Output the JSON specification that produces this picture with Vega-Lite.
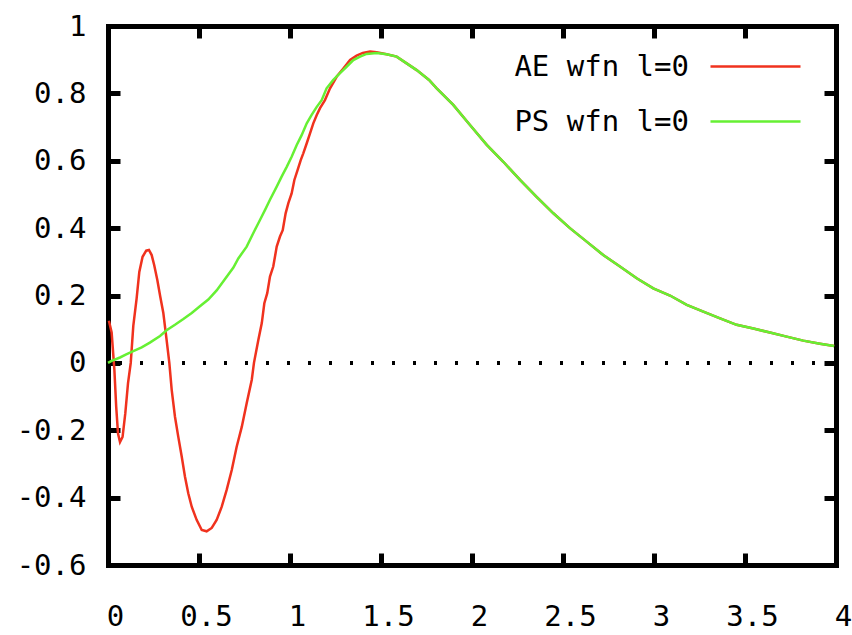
{
  "$schema": "https://vega.github.io/schema/vega-lite/v6.json",
  "width": 728,
  "height": 539,
  "autosize": {"type": "none"},
  "padding": {"left": 108, "top": 26, "right": 16, "bottom": 70},
  "background": "white",
  "view": {"stroke": null},
  "config": {
    "axis": {
      "domain": false, "grid": false, "title": null, "ticks": false, "labels": false,
      "tickColor": "black", "tickWidth": 5, "tickSize": 12,
      "domainColor": "black", "domainWidth": 5, "domainCap": "square",
      "labelFont": "DejaVu Sans Mono", "labelFontSize": 29, "labelColor": "black",
      "labelFlush": false, "labelOverlap": false
    },
    "legend": {
      "title": null, "orient": "none", "legendX": 609.5, "legendY": 2.5, "padding": 0,
      "symbolType": "M-1.233,0L1.233,0", "symbolSize": 5329, "symbolStrokeWidth": 2.5,
      "labelFont": "DejaVu Sans Mono", "labelFontSize": 29, "labelColor": "black", "labelLimit": 0,
      "labelAlign": "right", "labelOffset": -104.5
    }
  },
  "datasets": {
    "curves": [
      {"series": "AE wfn l=0", "x": 0.005, "y": 0.125},
      {"series": "AE wfn l=0", "x": 0.02, "y": 0.09},
      {"series": "AE wfn l=0", "x": 0.035, "y": -0.02},
      {"series": "AE wfn l=0", "x": 0.045, "y": -0.13},
      {"series": "AE wfn l=0", "x": 0.055, "y": -0.21},
      {"series": "AE wfn l=0", "x": 0.066, "y": -0.235},
      {"series": "AE wfn l=0", "x": 0.08, "y": -0.22},
      {"series": "AE wfn l=0", "x": 0.095, "y": -0.15},
      {"series": "AE wfn l=0", "x": 0.11, "y": -0.06},
      {"series": "AE wfn l=0", "x": 0.125, "y": 0.0},
      {"series": "AE wfn l=0", "x": 0.139, "y": 0.11},
      {"series": "AE wfn l=0", "x": 0.157, "y": 0.19},
      {"series": "AE wfn l=0", "x": 0.172, "y": 0.27},
      {"series": "AE wfn l=0", "x": 0.19, "y": 0.315},
      {"series": "AE wfn l=0", "x": 0.21, "y": 0.333},
      {"series": "AE wfn l=0", "x": 0.225, "y": 0.335},
      {"series": "AE wfn l=0", "x": 0.24, "y": 0.32},
      {"series": "AE wfn l=0", "x": 0.254, "y": 0.29},
      {"series": "AE wfn l=0", "x": 0.271, "y": 0.246},
      {"series": "AE wfn l=0", "x": 0.287, "y": 0.197},
      {"series": "AE wfn l=0", "x": 0.304, "y": 0.148},
      {"series": "AE wfn l=0", "x": 0.322, "y": 0.068},
      {"series": "AE wfn l=0", "x": 0.337, "y": 0.0},
      {"series": "AE wfn l=0", "x": 0.35, "y": -0.08},
      {"series": "AE wfn l=0", "x": 0.368, "y": -0.16},
      {"series": "AE wfn l=0", "x": 0.386, "y": -0.219},
      {"series": "AE wfn l=0", "x": 0.405, "y": -0.278},
      {"series": "AE wfn l=0", "x": 0.423, "y": -0.338},
      {"series": "AE wfn l=0", "x": 0.441, "y": -0.387},
      {"series": "AE wfn l=0", "x": 0.46, "y": -0.427},
      {"series": "AE wfn l=0", "x": 0.487, "y": -0.466},
      {"series": "AE wfn l=0", "x": 0.515, "y": -0.496},
      {"series": "AE wfn l=0", "x": 0.542, "y": -0.5},
      {"series": "AE wfn l=0", "x": 0.57, "y": -0.49},
      {"series": "AE wfn l=0", "x": 0.597, "y": -0.466},
      {"series": "AE wfn l=0", "x": 0.625, "y": -0.427},
      {"series": "AE wfn l=0", "x": 0.652, "y": -0.377},
      {"series": "AE wfn l=0", "x": 0.68, "y": -0.318},
      {"series": "AE wfn l=0", "x": 0.707, "y": -0.249},
      {"series": "AE wfn l=0", "x": 0.735, "y": -0.19},
      {"series": "AE wfn l=0", "x": 0.762, "y": -0.12},
      {"series": "AE wfn l=0", "x": 0.79, "y": -0.05},
      {"series": "AE wfn l=0", "x": 0.802, "y": 0.0},
      {"series": "AE wfn l=0", "x": 0.826, "y": 0.068},
      {"series": "AE wfn l=0", "x": 0.845, "y": 0.118},
      {"series": "AE wfn l=0", "x": 0.859, "y": 0.177},
      {"series": "AE wfn l=0", "x": 0.875, "y": 0.207},
      {"series": "AE wfn l=0", "x": 0.89, "y": 0.256},
      {"series": "AE wfn l=0", "x": 0.908, "y": 0.286},
      {"series": "AE wfn l=0", "x": 0.927, "y": 0.345},
      {"series": "AE wfn l=0", "x": 0.945, "y": 0.375},
      {"series": "AE wfn l=0", "x": 0.96, "y": 0.394},
      {"series": "AE wfn l=0", "x": 0.976, "y": 0.444},
      {"series": "AE wfn l=0", "x": 0.991, "y": 0.474},
      {"series": "AE wfn l=0", "x": 1.009, "y": 0.503},
      {"series": "AE wfn l=0", "x": 1.024, "y": 0.543},
      {"series": "AE wfn l=0", "x": 1.042, "y": 0.573},
      {"series": "AE wfn l=0", "x": 1.059, "y": 0.602},
      {"series": "AE wfn l=0", "x": 1.073, "y": 0.622},
      {"series": "AE wfn l=0", "x": 1.092, "y": 0.652},
      {"series": "AE wfn l=0", "x": 1.11, "y": 0.681},
      {"series": "AE wfn l=0", "x": 1.128, "y": 0.711},
      {"series": "AE wfn l=0", "x": 1.147, "y": 0.736},
      {"series": "AE wfn l=0", "x": 1.165, "y": 0.756},
      {"series": "AE wfn l=0", "x": 1.192, "y": 0.78},
      {"series": "AE wfn l=0", "x": 1.22, "y": 0.815},
      {"series": "AE wfn l=0", "x": 1.257, "y": 0.85},
      {"series": "AE wfn l=0", "x": 1.293, "y": 0.874},
      {"series": "AE wfn l=0", "x": 1.33, "y": 0.899},
      {"series": "AE wfn l=0", "x": 1.366, "y": 0.912},
      {"series": "AE wfn l=0", "x": 1.4, "y": 0.92},
      {"series": "AE wfn l=0", "x": 1.44, "y": 0.924},
      {"series": "AE wfn l=0", "x": 1.476, "y": 0.922},
      {"series": "AE wfn l=0", "x": 1.531, "y": 0.916},
      {"series": "AE wfn l=0", "x": 1.586, "y": 0.909},
      {"series": "AE wfn l=0", "x": 1.641, "y": 0.889},
      {"series": "AE wfn l=0", "x": 1.696, "y": 0.869},
      {"series": "AE wfn l=0", "x": 1.764, "y": 0.84},
      {"series": "AE wfn l=0", "x": 1.806, "y": 0.815},
      {"series": "AE wfn l=0", "x": 1.897, "y": 0.766},
      {"series": "AE wfn l=0", "x": 1.989, "y": 0.706},
      {"series": "AE wfn l=0", "x": 2.081, "y": 0.647},
      {"series": "AE wfn l=0", "x": 2.172, "y": 0.597},
      {"series": "AE wfn l=0", "x": 2.264, "y": 0.543},
      {"series": "AE wfn l=0", "x": 2.355, "y": 0.493},
      {"series": "AE wfn l=0", "x": 2.447, "y": 0.444},
      {"series": "AE wfn l=0", "x": 2.538, "y": 0.4},
      {"series": "AE wfn l=0", "x": 2.63, "y": 0.36},
      {"series": "AE wfn l=0", "x": 2.721, "y": 0.32},
      {"series": "AE wfn l=0", "x": 2.813, "y": 0.286},
      {"series": "AE wfn l=0", "x": 2.905, "y": 0.251},
      {"series": "AE wfn l=0", "x": 2.996, "y": 0.221},
      {"series": "AE wfn l=0", "x": 3.088, "y": 0.2},
      {"series": "AE wfn l=0", "x": 3.18, "y": 0.172},
      {"series": "AE wfn l=0", "x": 3.271, "y": 0.152},
      {"series": "AE wfn l=0", "x": 3.363, "y": 0.132},
      {"series": "AE wfn l=0", "x": 3.454, "y": 0.113},
      {"series": "AE wfn l=0", "x": 3.546, "y": 0.102},
      {"series": "AE wfn l=0", "x": 3.637, "y": 0.09},
      {"series": "AE wfn l=0", "x": 3.729, "y": 0.078},
      {"series": "AE wfn l=0", "x": 3.82, "y": 0.066},
      {"series": "AE wfn l=0", "x": 3.912, "y": 0.057},
      {"series": "AE wfn l=0", "x": 3.99, "y": 0.05},
      {"series": "PS wfn l=0", "x": 0.0, "y": 0.0},
      {"series": "PS wfn l=0", "x": 0.02, "y": 0.006},
      {"series": "PS wfn l=0", "x": 0.066, "y": 0.016},
      {"series": "PS wfn l=0", "x": 0.1, "y": 0.025},
      {"series": "PS wfn l=0", "x": 0.139, "y": 0.035},
      {"series": "PS wfn l=0", "x": 0.185, "y": 0.046},
      {"series": "PS wfn l=0", "x": 0.23, "y": 0.06},
      {"series": "PS wfn l=0", "x": 0.286, "y": 0.08},
      {"series": "PS wfn l=0", "x": 0.322, "y": 0.097},
      {"series": "PS wfn l=0", "x": 0.368, "y": 0.113},
      {"series": "PS wfn l=0", "x": 0.414, "y": 0.13},
      {"series": "PS wfn l=0", "x": 0.46, "y": 0.148},
      {"series": "PS wfn l=0", "x": 0.505, "y": 0.168},
      {"series": "PS wfn l=0", "x": 0.551, "y": 0.188},
      {"series": "PS wfn l=0", "x": 0.597, "y": 0.215},
      {"series": "PS wfn l=0", "x": 0.643, "y": 0.249},
      {"series": "PS wfn l=0", "x": 0.689, "y": 0.283},
      {"series": "PS wfn l=0", "x": 0.716, "y": 0.31},
      {"series": "PS wfn l=0", "x": 0.762, "y": 0.345},
      {"series": "PS wfn l=0", "x": 0.798, "y": 0.385},
      {"series": "PS wfn l=0", "x": 0.835, "y": 0.424},
      {"series": "PS wfn l=0", "x": 0.863, "y": 0.454},
      {"series": "PS wfn l=0", "x": 0.89, "y": 0.484},
      {"series": "PS wfn l=0", "x": 0.927, "y": 0.523},
      {"series": "PS wfn l=0", "x": 0.954, "y": 0.553},
      {"series": "PS wfn l=0", "x": 0.982, "y": 0.582},
      {"series": "PS wfn l=0", "x": 1.009, "y": 0.612},
      {"series": "PS wfn l=0", "x": 1.037, "y": 0.647},
      {"series": "PS wfn l=0", "x": 1.064, "y": 0.676},
      {"series": "PS wfn l=0", "x": 1.092, "y": 0.711},
      {"series": "PS wfn l=0", "x": 1.119, "y": 0.736},
      {"series": "PS wfn l=0", "x": 1.147, "y": 0.76},
      {"series": "PS wfn l=0", "x": 1.174, "y": 0.78},
      {"series": "PS wfn l=0", "x": 1.201, "y": 0.815},
      {"series": "PS wfn l=0", "x": 1.238, "y": 0.84},
      {"series": "PS wfn l=0", "x": 1.275, "y": 0.86},
      {"series": "PS wfn l=0", "x": 1.311, "y": 0.879},
      {"series": "PS wfn l=0", "x": 1.348, "y": 0.899},
      {"series": "PS wfn l=0", "x": 1.385, "y": 0.909},
      {"series": "PS wfn l=0", "x": 1.421, "y": 0.917},
      {"series": "PS wfn l=0", "x": 1.476, "y": 0.92},
      {"series": "PS wfn l=0", "x": 1.531, "y": 0.916},
      {"series": "PS wfn l=0", "x": 1.586, "y": 0.909},
      {"series": "PS wfn l=0", "x": 1.641, "y": 0.889},
      {"series": "PS wfn l=0", "x": 1.696, "y": 0.869},
      {"series": "PS wfn l=0", "x": 1.764, "y": 0.84},
      {"series": "PS wfn l=0", "x": 1.806, "y": 0.815},
      {"series": "PS wfn l=0", "x": 1.897, "y": 0.766},
      {"series": "PS wfn l=0", "x": 1.989, "y": 0.706},
      {"series": "PS wfn l=0", "x": 2.081, "y": 0.647},
      {"series": "PS wfn l=0", "x": 2.172, "y": 0.597},
      {"series": "PS wfn l=0", "x": 2.264, "y": 0.543},
      {"series": "PS wfn l=0", "x": 2.355, "y": 0.493},
      {"series": "PS wfn l=0", "x": 2.447, "y": 0.444},
      {"series": "PS wfn l=0", "x": 2.538, "y": 0.4},
      {"series": "PS wfn l=0", "x": 2.63, "y": 0.36},
      {"series": "PS wfn l=0", "x": 2.721, "y": 0.32},
      {"series": "PS wfn l=0", "x": 2.813, "y": 0.286},
      {"series": "PS wfn l=0", "x": 2.905, "y": 0.251},
      {"series": "PS wfn l=0", "x": 2.996, "y": 0.221},
      {"series": "PS wfn l=0", "x": 3.088, "y": 0.2},
      {"series": "PS wfn l=0", "x": 3.18, "y": 0.172},
      {"series": "PS wfn l=0", "x": 3.271, "y": 0.152},
      {"series": "PS wfn l=0", "x": 3.363, "y": 0.132},
      {"series": "PS wfn l=0", "x": 3.454, "y": 0.113},
      {"series": "PS wfn l=0", "x": 3.546, "y": 0.102},
      {"series": "PS wfn l=0", "x": 3.637, "y": 0.09},
      {"series": "PS wfn l=0", "x": 3.729, "y": 0.078},
      {"series": "PS wfn l=0", "x": 3.82, "y": 0.066},
      {"series": "PS wfn l=0", "x": 3.912, "y": 0.057},
      {"series": "PS wfn l=0", "x": 3.99, "y": 0.05}
    ]
  },
  "data": {"name": "curves"},
  "resolve": {"axis": {"x": "independent", "y": "independent"}},
  "layer": [
    {
      "mark": {"type": "rule", "color": "black", "strokeWidth": 3, "strokeDash": [3, 18]},
      "encoding": {
        "y": {"datum": 0, "type": "quantitative", "axis": null,
              "scale": {"domain": [-0.6, 1], "nice": false, "zero": false}}
      }
    },
    {
      "mark": {"type": "line", "strokeWidth": 2.5, "interpolate": "linear"},
      "encoding": {
        "x": {"field": "x", "type": "quantitative",
              "scale": {"domain": [0, 4], "nice": false, "zero": false},
              "axis": {"orient": "bottom", "values": [0, 0.5, 1, 1.5, 2, 2.5, 3, 3.5, 4],
                       "domain": true, "labels": true,
                       "labelPadding": 37, "labelOffset": 7, "labelBaseline": "top",
                       "labelExpr": "format(datum.value, '~g')"}},
        "y": {"field": "y", "type": "quantitative",
              "scale": {"domain": [-0.6, 1], "nice": false, "zero": false},
              "axis": {"orient": "left", "values": [-0.6, -0.4, -0.2, 0, 0.2, 0.4, 0.6, 0.8, 1],
                       "domain": true, "labels": true, "labelPadding": 22,
                       "labelExpr": "replace(format(datum.value, '~g'), '\u2212', '-')"}},
        "color": {"field": "series", "type": "nominal",
                  "scale": {"domain": ["AE wfn l=0", "PS wfn l=0"], "range": ["#f0321e", "#66f033"]},
                  "legend": {}},
        "order": {"field": "x", "type": "quantitative"}
      }
    },
    {
      "mark": {"type": "point", "opacity": 0},
      "encoding": {
        "x": {"field": "x", "type": "quantitative",
              "scale": {"domain": [0, 4], "nice": false, "zero": false},
              "axis": {"orient": "top", "domain": true}},
        "y": {"field": "y", "type": "quantitative",
              "scale": {"domain": [-0.6, 1], "nice": false, "zero": false},
              "axis": {"orient": "right", "domain": true}}
      }
    },
    {
      "mark": {"type": "point", "opacity": 0},
      "encoding": {
        "x": {"field": "x", "type": "quantitative",
              "scale": {"domain": [0, 4], "nice": false, "zero": false},
              "axis": {"orient": "bottom", "offset": -12, "ticks": true,
                       "values": [0.5, 1, 1.5, 2, 2.5, 3, 3.5]}},
        "y": {"field": "y", "type": "quantitative",
              "scale": {"domain": [-0.6, 1], "nice": false, "zero": false},
              "axis": {"orient": "left", "offset": -12, "ticks": true,
                       "values": [-0.4, -0.2, 0, 0.2, 0.4, 0.6, 0.8]}}
      }
    },
    {
      "mark": {"type": "point", "opacity": 0},
      "encoding": {
        "x": {"field": "x", "type": "quantitative",
              "scale": {"domain": [0, 4], "nice": false, "zero": false},
              "axis": {"orient": "top", "offset": -12, "ticks": true,
                       "values": [0.5, 1, 1.5, 2, 2.5, 3, 3.5]}},
        "y": {"field": "y", "type": "quantitative",
              "scale": {"domain": [-0.6, 1], "nice": false, "zero": false},
              "axis": {"orient": "right", "offset": -12, "ticks": true,
                       "values": [-0.4, -0.2, 0, 0.2, 0.4, 0.6, 0.8]}}
      }
    }
  ]
}
